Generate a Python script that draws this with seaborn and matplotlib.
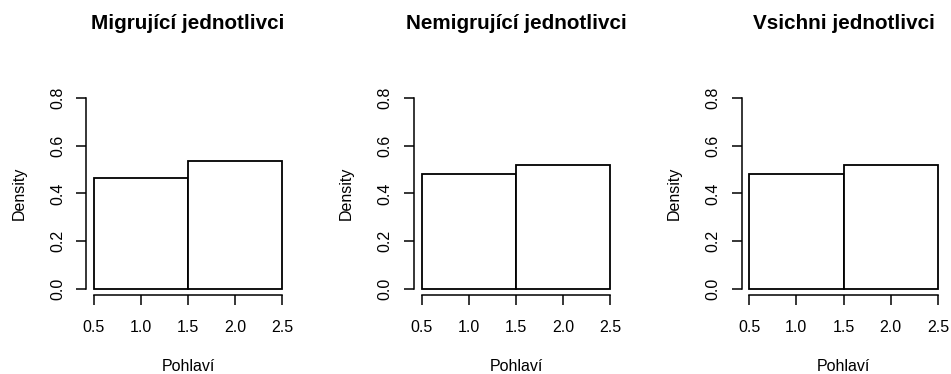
import matplotlib
matplotlib.use("Agg")
import matplotlib.pyplot as plt
import seaborn as sns

# Density of each sex category (bins of width 1 centred on 1 and 2)
titles = ["Migrující jednotlivci", "Nemigrující jednotlivci", "Vsichni jednotlivci"]
sex_codes = [1, 2]
density_migr = [0.463, 0.537]
density_nonmigr = [0.480, 0.520]
density_all = [0.480, 0.520]
bin_edges = [0.5, 1.5, 2.5]
x_ticks = [0.5, 1.0, 1.5, 2.0, 2.5]
y_ticks = [0.0, 0.2, 0.4, 0.6, 0.8]
x_label = "Pohlaví"
y_label = "Density"

sns.set_style("white")
plt.rcParams["font.family"] = ["Liberation Sans", "DejaVu Sans"]

fig = plt.figure(figsize=(9.51, 3.74), dpi=100)
lefts = [0.0905, 0.4353, 0.7798]
series = [density_migr, density_nonmigr, density_all]

for left, title, dens in zip(lefts, titles, series):
    ax = fig.add_axes([left, 0.2107, 0.2145, 0.5446])
    sns.histplot(x=sex_codes, weights=dens, bins=bin_edges, stat="density",
                 color="white", edgecolor="black", linewidth=1.3, alpha=1,
                 ax=ax)
    ax.set_xlim(0.42, 2.58)
    ax.set_ylim(-0.0256, 0.8256)
    ax.set_xticks(x_ticks)
    ax.set_xticklabels([f"{v:.1f}" for v in x_ticks])
    ax.set_yticks(y_ticks)
    ax.set_yticklabels([f"{v:.1f}" for v in y_ticks], rotation=90, va="center")
    for s in ["top", "right"]:
        ax.spines[s].set_visible(False)
    ax.spines["bottom"].set_bounds(0.5, 2.5)
    ax.spines["left"].set_bounds(0.0, 0.8)
    for s in ["bottom", "left"]:
        ax.spines[s].set_color("black")
        ax.spines[s].set_linewidth(1.1)
    ax.tick_params(axis="both", direction="out", length=7.2, width=1.1,
                   color="black", labelsize=11.5, labelcolor="black",
                   left=True, bottom=True)
    ax.tick_params(axis="x", pad=11)
    ax.tick_params(axis="y", pad=8)
    ax.set_xlabel(x_label, fontsize=11.5, labelpad=17, color="black")
    ax.set_ylabel(y_label, fontsize=11.5, labelpad=17, color="black")
    ax.set_title(title, fontsize=14.9, fontweight="bold", pad=45, color="black")
    ax.patch.set_alpha(0)

fig.savefig("out.png", dpi=100, facecolor="white")
